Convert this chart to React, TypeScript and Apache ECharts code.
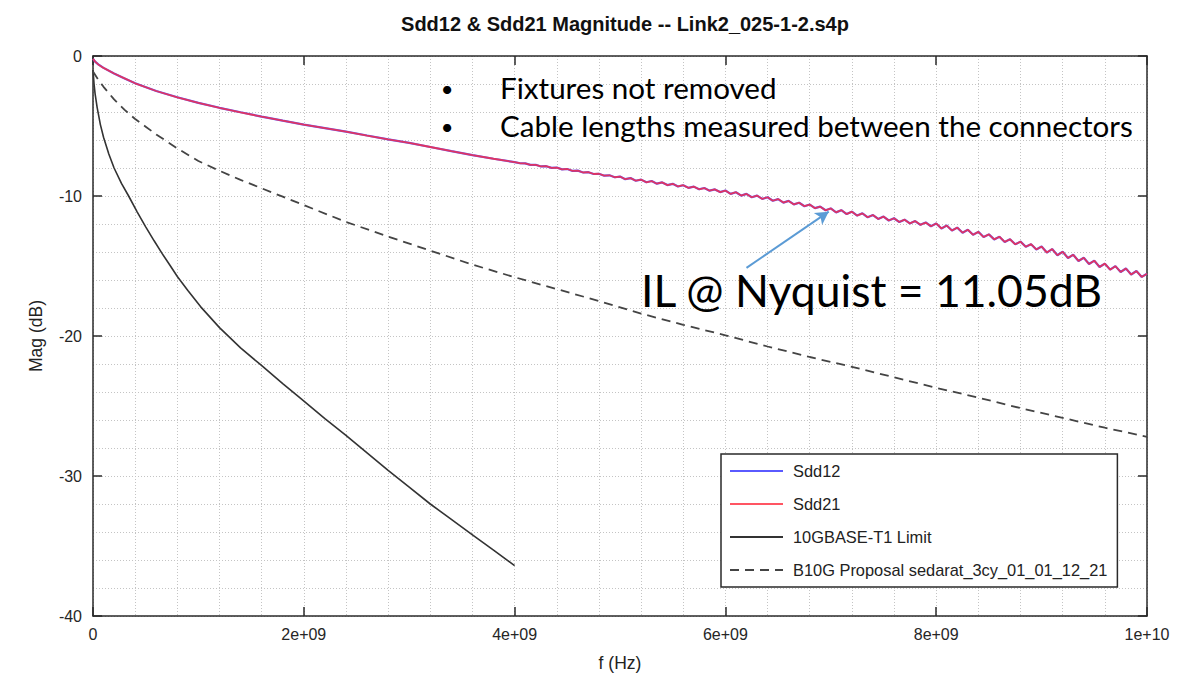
import React, { useEffect, useRef } from 'react';
import * as echarts from 'echarts';

const TITLE = 'Sdd12 & Sdd21 Magnitude -- Link2_025-1-2.s4p';
const X_NAME = 'f (Hz)';
const Y_NAME = 'Mag (dB)';
const SERIES_NAMES = ['Sdd12', 'Sdd21', '10GBASE-T1 Limit', 'B10G Proposal sedarat_3cy_01_01_12_21'];

const X_MIN = 0;
const X_MAX = 1e10;
const X_STEP = 2e9;
const Y_MIN = -40;
const Y_MAX = 0;
const Y_STEP = 10;

// Sdd12 / Sdd21 (they overlap in the plot), frequency in GHz, magnitude in dB
const sddGHz = [
  0, 0.02, 0.05, 0.1, 0.2, 0.3, 0.4, 0.6, 0.8, 1.0, 1.2, 1.4, 1.6, 1.8, 2.0, 2.2, 2.4, 2.6, 2.8, 3.0, 3.2, 3.4, 3.6, 3.8,
  4.00, 4.05, 4.10, 4.15, 4.20, 4.25, 4.30, 4.35, 4.40, 4.45, 4.50, 4.55, 4.60, 4.65, 4.70, 4.75, 4.80, 4.85, 4.90, 4.95,
  5.00, 5.05, 5.10, 5.15, 5.20, 5.25, 5.30, 5.35, 5.40, 5.45, 5.50, 5.55, 5.60, 5.65, 5.70, 5.75, 5.80, 5.85, 5.90, 5.95,
  6.00, 6.05, 6.10, 6.15, 6.20, 6.25, 6.30, 6.35, 6.40, 6.45, 6.50, 6.55, 6.60, 6.65, 6.70, 6.75, 6.80, 6.85, 6.90, 6.95,
  7.00, 7.05, 7.10, 7.15, 7.20, 7.25, 7.30, 7.35, 7.40, 7.45, 7.50, 7.55, 7.60, 7.65, 7.70, 7.75, 7.80, 7.85, 7.90, 7.95,
  8.00, 8.05, 8.10, 8.15, 8.20, 8.25, 8.30, 8.35, 8.40, 8.45, 8.50, 8.55, 8.60, 8.65, 8.70, 8.75, 8.80, 8.85, 8.90, 8.95,
  9.00, 9.05, 9.10, 9.15, 9.20, 9.25, 9.30, 9.35, 9.40, 9.45, 9.50, 9.55, 9.60, 9.65, 9.70, 9.75, 9.80, 9.85, 9.90, 9.95,
  10.00,
];
const sddDb = [
  -0.2, -0.4, -0.6, -0.85, -1.25, -1.6, -1.95, -2.5, -2.95, -3.35, -3.7, -4.02, -4.33, -4.62, -4.9, -5.15, -5.4, -5.68, -5.95, -6.2, -6.5, -6.8, -7.08, -7.34,
  -7.58, -7.66, -7.67, -7.78, -7.77, -7.89, -7.87, -7.99, -7.97, -8.10, -8.07, -8.21, -8.19, -8.32, -8.30, -8.43, -8.41, -8.55, -8.52, -8.66,
  -8.61, -8.80, -8.72, -8.91, -8.83, -9.02, -8.93, -9.12, -9.03, -9.22, -9.13, -9.32, -9.23, -9.42, -9.33, -9.52, -9.43, -9.62, -9.53, -9.72,
  -9.61, -9.85, -9.73, -9.97, -9.85, -10.09, -9.97, -10.21, -10.09, -10.34, -10.22, -10.47, -10.35, -10.60, -10.48, -10.73, -10.61, -10.87, -10.76, -11.02,
  -10.89, -11.17, -11.01, -11.29, -11.12, -11.40, -11.24, -11.52, -11.36, -11.64, -11.47, -11.75, -11.59, -11.86, -11.69, -11.96, -11.79, -12.06, -11.89, -12.16,
  -11.96, -12.32, -12.11, -12.47, -12.26, -12.62, -12.41, -12.77, -12.56, -12.93, -12.74, -13.10, -12.91, -13.28, -13.09, -13.45, -13.26, -13.63, -13.44, -13.82,
  -13.61, -14.04, -13.79, -14.23, -13.98, -14.43, -14.20, -14.64, -14.41, -14.86, -14.62, -15.07, -14.83, -15.26, -15.01, -15.43, -15.18, -15.61, -15.36, -15.78,
  -15.55,
];

// 10GBASE-T1 limit
const limitGHz = [0, 0.01, 0.02, 0.04, 0.07, 0.1, 0.15, 0.2, 0.27, 0.338, 0.42, 0.5, 0.58, 0.655, 0.73, 0.8, 0.9, 1.02, 1.2, 1.4, 1.59, 1.8, 1.97, 2.2, 2.4, 2.6, 2.8, 3.0, 3.2, 3.4, 3.6, 3.8, 4.0];
const limitDb = [-1.0, -2.0, -2.7, -3.7, -4.9, -5.8, -7.0, -8.0, -9.1, -10.0, -11.15, -12.2, -13.2, -14.1, -14.95, -15.75, -16.75, -17.9, -19.4, -20.85, -22.05, -23.4, -24.45, -25.9, -27.1, -28.35, -29.6, -30.8, -32.0, -33.1, -34.2, -35.3, -36.4];

// B10G proposal (dashed)
const proposalGHz = [0, 0.05, 0.1, 0.2, 0.3, 0.4, 0.5, 0.6, 0.7, 0.8, 0.9, 1.0, 1.2, 1.4, 1.6, 1.8, 2.0, 2.4, 2.8, 3.2, 3.6, 4.0, 4.4, 4.8, 5.2, 5.6, 6.0, 6.4, 6.8, 7.2, 7.6, 8.0, 8.4, 8.8, 9.2, 9.6, 10.0];
const proposalDb = [-1.1, -1.7, -2.2, -3.1, -3.85, -4.5, -5.05, -5.6, -6.1, -6.6, -7.05, -7.5, -8.2, -8.85, -9.45, -10.05, -10.65, -11.85, -12.9, -13.9, -14.9, -15.8, -16.65, -17.5, -18.4, -19.2, -19.95, -20.75, -21.5, -22.2, -22.95, -23.7, -24.4, -25.15, -25.85, -26.55, -27.2];

// Annotation arrow (GHz, dB): from label to the Nyquist point
const arrowFrom = [6.2, -15.13];
const arrowTo = [6.98, -11.12];

const BULLETS = ['Fixtures not removed', 'Cable lengths measured between the connectors'];
const IL_LABEL = 'IL @ Nyquist = 11.05dB';

const FONT = '"Liberation Sans", Arial, Helvetica, sans-serif';
const AXIS_COLOR = '#2a2a2a';
const GRID_COLOR = '#c4c4c4';

const toPairs = (ghz: number[], db: number[]) => ghz.map((f, i) => [f * 1e9, db[i]]);

const fmtX = (v: number) => {
  if (v === 0) return '0';
  const e = Math.floor(Math.log10(Math.abs(v)) + 1e-9);
  const m = Math.round(v / Math.pow(10, e));
  return `${m}e+${String(e).padStart(2, '0')}`;
};

export default function App() {
  const ref = useRef<HTMLDivElement>(null);
  useEffect(() => {
    if (!ref.current) return;
    const chart = echarts.init(ref.current, undefined, { renderer: 'svg' });
    const gridLine = { show: true, lineStyle: { color: GRID_COLOR, width: 1, type: [1, 2] } };
    const edgeAxis = {
      axisLine: { show: true, onZero: false, lineStyle: { color: AXIS_COLOR, width: 1.5 } },
      axisTick: { show: true, inside: true, length: 9, lineStyle: { color: AXIS_COLOR, width: 1.5 } },
    };
    const option: any = {
      animation: false,
      backgroundColor: '#ffffff',
      title: {
        text: TITLE,
        left: 620,
        top: 9,
        textAlign: 'center',
        textStyle: { fontFamily: FONT, fontSize: 20, fontWeight: 'bold', color: '#111' },
      },
      grid: { left: 93, top: 56, width: 1054, height: 560 },
      legend: {
        data: SERIES_NAMES,
        orient: 'vertical',
        left: 721,
        top: 454,
        padding: [9, 10, 9, 8],
        itemWidth: 53,
        itemHeight: 14,
        itemGap: 17,
        borderColor: AXIS_COLOR,
        borderWidth: 1.5,
        backgroundColor: '#ffffff',
        selectedMode: false,
        itemStyle: { opacity: 0 },
        textStyle: { fontFamily: FONT, fontSize: 16.4, color: '#222', padding: [0, 0, 0, 5] },
      },
      xAxis: [
        {
          type: 'value',
          min: X_MIN,
          max: X_MAX,
          interval: X_STEP,
          name: X_NAME,
          nameLocation: 'middle',
          nameGap: 38,
          nameTextStyle: { fontFamily: FONT, fontSize: 17.5, color: '#222' },
          ...edgeAxis,
          axisLabel: { fontFamily: FONT, fontSize: 16, color: '#262626', margin: 10, formatter: fmtX },
          splitLine: gridLine,
          minorTick: { show: false, splitNumber: 5 },
          minorSplitLine: gridLine,
        },
        {
          type: 'value',
          position: 'top',
          min: X_MIN,
          max: X_MAX,
          interval: X_STEP,
          ...edgeAxis,
          axisLabel: { show: false },
          splitLine: { show: false },
        },
      ],
      yAxis: [
        {
          type: 'value',
          min: Y_MIN,
          max: Y_MAX,
          interval: Y_STEP,
          name: Y_NAME,
          nameLocation: 'middle',
          nameGap: 48,
          nameRotate: 90,
          nameTextStyle: { fontFamily: FONT, fontSize: 17.5, color: '#222' },
          ...edgeAxis,
          axisLabel: { fontFamily: FONT, fontSize: 16, color: '#262626', margin: 11 },
          splitLine: gridLine,
          minorTick: { show: false, splitNumber: 5 },
          minorSplitLine: gridLine,
        },
        {
          type: 'value',
          position: 'right',
          min: Y_MIN,
          max: Y_MAX,
          interval: Y_STEP,
          ...edgeAxis,
          axisLabel: { show: false },
          splitLine: { show: false },
        },
      ],
      series: [
        {
          name: SERIES_NAMES[0],
          type: 'line',
          data: toPairs(sddGHz, sddDb),
          symbol: 'none',
          color: '#5a5aff',
          lineStyle: { color: '#5a5aff', width: 2.2 },
          z: 3,
        },
        {
          name: SERIES_NAMES[1],
          type: 'line',
          data: toPairs(sddGHz, sddDb),
          symbol: 'none',
          color: '#ff2a3c',
          lineStyle: { color: '#ff2a3c', width: 1.8, opacity: 0.8 },
          z: 4,
        },
        {
          name: SERIES_NAMES[2],
          type: 'line',
          data: toPairs(limitGHz, limitDb),
          symbol: 'none',
          color: '#333333',
          lineStyle: { color: '#333333', width: 1.6 },
          z: 3,
        },
        {
          name: SERIES_NAMES[3],
          type: 'line',
          data: toPairs(proposalGHz, proposalDb),
          symbol: 'none',
          color: '#444444',
          lineStyle: { color: '#444444', width: 1.8, type: [9, 6] },
          z: 3,
        },
        {
          name: 'arrow',
          type: 'line',
          data: [],
          symbol: 'none',
          silent: true,
          markLine: {
            silent: true,
            symbol: ['none', 'arrow'],
            symbolSize: [11, 13],
            label: { show: false },
            lineStyle: { color: '#5b9bd5', width: 2, type: 'solid' },
            data: [[
              { coord: [arrowFrom[0] * 1e9, arrowFrom[1]] },
              { coord: [arrowTo[0] * 1e9, arrowTo[1]] },
            ]],
          },
          z: 6,
        },
      ],
      graphic: [
        { type: 'text', x: 447, y: 88, z: 10, style: { text: '•', font: '22px Lato', fill: '#000', align: 'center', verticalAlign: 'middle' } },
        { type: 'text', x: 500, y: 87, z: 10, style: { text: BULLETS[0], font: '29.6px Lato', fill: '#000', align: 'left', verticalAlign: 'middle' } },
        { type: 'text', x: 447, y: 126, z: 10, style: { text: '•', font: '22px Lato', fill: '#000', align: 'center', verticalAlign: 'middle' } },
        { type: 'text', x: 500, y: 125, z: 10, style: { text: BULLETS[1], font: '29.6px Lato', fill: '#000', align: 'left', verticalAlign: 'middle' } },
        { type: 'text', x: 641, y: 289, z: 10, style: { text: IL_LABEL, font: '44.5px Lato', fill: '#000', align: 'left', verticalAlign: 'middle' } },
      ],
    };
    chart.setOption(option);
    return () => chart.dispose();
  }, []);
  return (
    <div
      ref={ref}
      style={{ position: 'fixed', left: 0, top: 0, width: 1199, height: 677, background: '#fff' }}
    />
  );
}
